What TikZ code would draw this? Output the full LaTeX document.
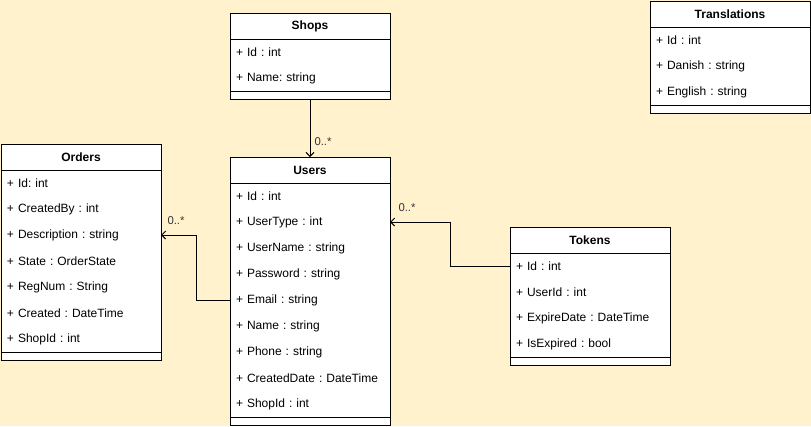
\documentclass[tikz,border=0pt]{standalone}
\usepackage{fontspec}
\setmainfont{Liberation Sans}
\usepackage{xcolor}
\usetikzlibrary{arrows.meta,positioning}
\frenchspacing
\definecolor{DiagramBg}{HTML}{FFF2CC}
\tikzset{
  classhead/.style={
    draw,
    fill=white,
    line width=0.75pt,
    anchor=north west,
    minimum width=120pt,
    minimum height=19.5pt,
    inner sep=0pt,
    outer sep=0pt,
    font=\fontsize{9}{11}\selectfont\bfseries
  },
  classbody/.style={
    draw,
    fill=white,
    line width=0.75pt,
    minimum width=120pt,
    inner sep=0pt,
    outer sep=0pt
  },
  classfoot/.style={
    draw,
    fill=white,
    line width=0.75pt,
    minimum width=120pt,
    minimum height=6pt,
    inner sep=0pt,
    outer sep=0pt
  },
  attr/.style={
    text width=111pt,
    minimum height=19.5pt,
    inner xsep=4.5pt,
    inner ysep=0pt,
    outer sep=0pt,
    align=left,
    font=\fontsize{9}{11}\selectfont
  },
  assoc/.style={-{Straight Barb[length=3pt,width=6pt]}, line width=0.75pt},
  mult/.style={font=\fontsize{8.5}{10}\selectfont, text=black!80, inner sep=1pt}
}

\begin{document}
\begin{tikzpicture}[x=0.75pt,y=-0.75pt]
\fill[DiagramBg] (0,0) rectangle (811,426);
\useasboundingbox (0,0) rectangle (811,426);

% Shops
\node[classhead] (shops) at (230,13) {Shops};
\node[classbody, minimum height=39pt, below=0pt of shops] (shops-body) {};
\node[classfoot, below=0pt of shops-body] (shops-foot) {};
\node[attr, below=0pt of shops] (shops-id) {+ Id : int};
\node[attr, below=0pt of shops-id] (shops-name) {+ Name: string};

% Users
\node[classhead] (users) at (230,157) {Users};
\node[classbody, minimum height=175.5pt, below=0pt of users] (users-body) {};
\node[classfoot, below=0pt of users-body] (users-foot) {};
\node[attr, below=0pt of users] (users-id) {+ Id : int};
\node[attr, below=0pt of users-id] (users-type) {+ UserType : int};
\node[attr, below=0pt of users-type] (users-uname) {+ UserName : string};
\node[attr, below=0pt of users-uname] (users-pass) {+ Password : string};
\node[attr, below=0pt of users-pass] (users-email) {+ Email : string};
\node[attr, below=0pt of users-email] (users-name) {+ Name : string};
\node[attr, below=0pt of users-name] (users-phone) {+ Phone : string};
\node[attr, below=0pt of users-phone] (users-created) {+ CreatedDate : DateTime};
\node[attr, below=0pt of users-created] (users-shop) {+ ShopId : int};

% Orders
\node[classhead] (orders) at (1,144) {Orders};
\node[classbody, minimum height=136.5pt, below=0pt of orders] (orders-body) {};
\node[classfoot, below=0pt of orders-body] (orders-foot) {};
\node[attr, below=0pt of orders] (orders-id) {+ Id: int};
\node[attr, below=0pt of orders-id] (orders-by) {+ CreatedBy : int};
\node[attr, below=0pt of orders-by] (orders-desc) {+ Description : string};
\node[attr, below=0pt of orders-desc] (orders-state) {+ State : OrderState};
\node[attr, below=0pt of orders-state] (orders-reg) {+ RegNum : String};
\node[attr, below=0pt of orders-reg] (orders-created) {+ Created : DateTime};
\node[attr, below=0pt of orders-created] (orders-shop) {+ ShopId : int};

% Tokens
\node[classhead] (tokens) at (510,227) {Tokens};
\node[classbody, minimum height=78pt, below=0pt of tokens] (tokens-body) {};
\node[classfoot, below=0pt of tokens-body] (tokens-foot) {};
\node[attr, below=0pt of tokens] (tokens-id) {+ Id : int};
\node[attr, below=0pt of tokens-id] (tokens-user) {+ UserId : int};
\node[attr, below=0pt of tokens-user] (tokens-expire) {+ ExpireDate : DateTime};
\node[attr, below=0pt of tokens-expire] (tokens-expired) {+ IsExpired : bool};

% Translations
\node[classhead] (trans) at (650,1) {Translations};
\node[classbody, minimum height=58.5pt, below=0pt of trans] (trans-body) {};
\node[classfoot, below=0pt of trans-body] (trans-foot) {};
\node[attr, below=0pt of trans] (trans-id) {+ Id : int};
\node[attr, below=0pt of trans-id] (trans-da) {+ Danish : string};
\node[attr, below=0pt of trans-da] (trans-en) {+ English : string};

% associations
\draw[assoc] (shops-foot.south) -- (users.north)
  node[mult, pos=0.74, right=2pt] {0..*};
\draw[assoc] (users-email.west) -- ++(-34,0) |- (orders-desc.east)
  node[mult, pos=1, above right=6.5pt and 3.5pt] {0..*};
\draw[assoc] (tokens-id.west) -- ++(-60,0) |- (users-type.east)
  node[mult, pos=1, above right=6.5pt and 5pt] {0..*};
\end{tikzpicture}
\end{document}
